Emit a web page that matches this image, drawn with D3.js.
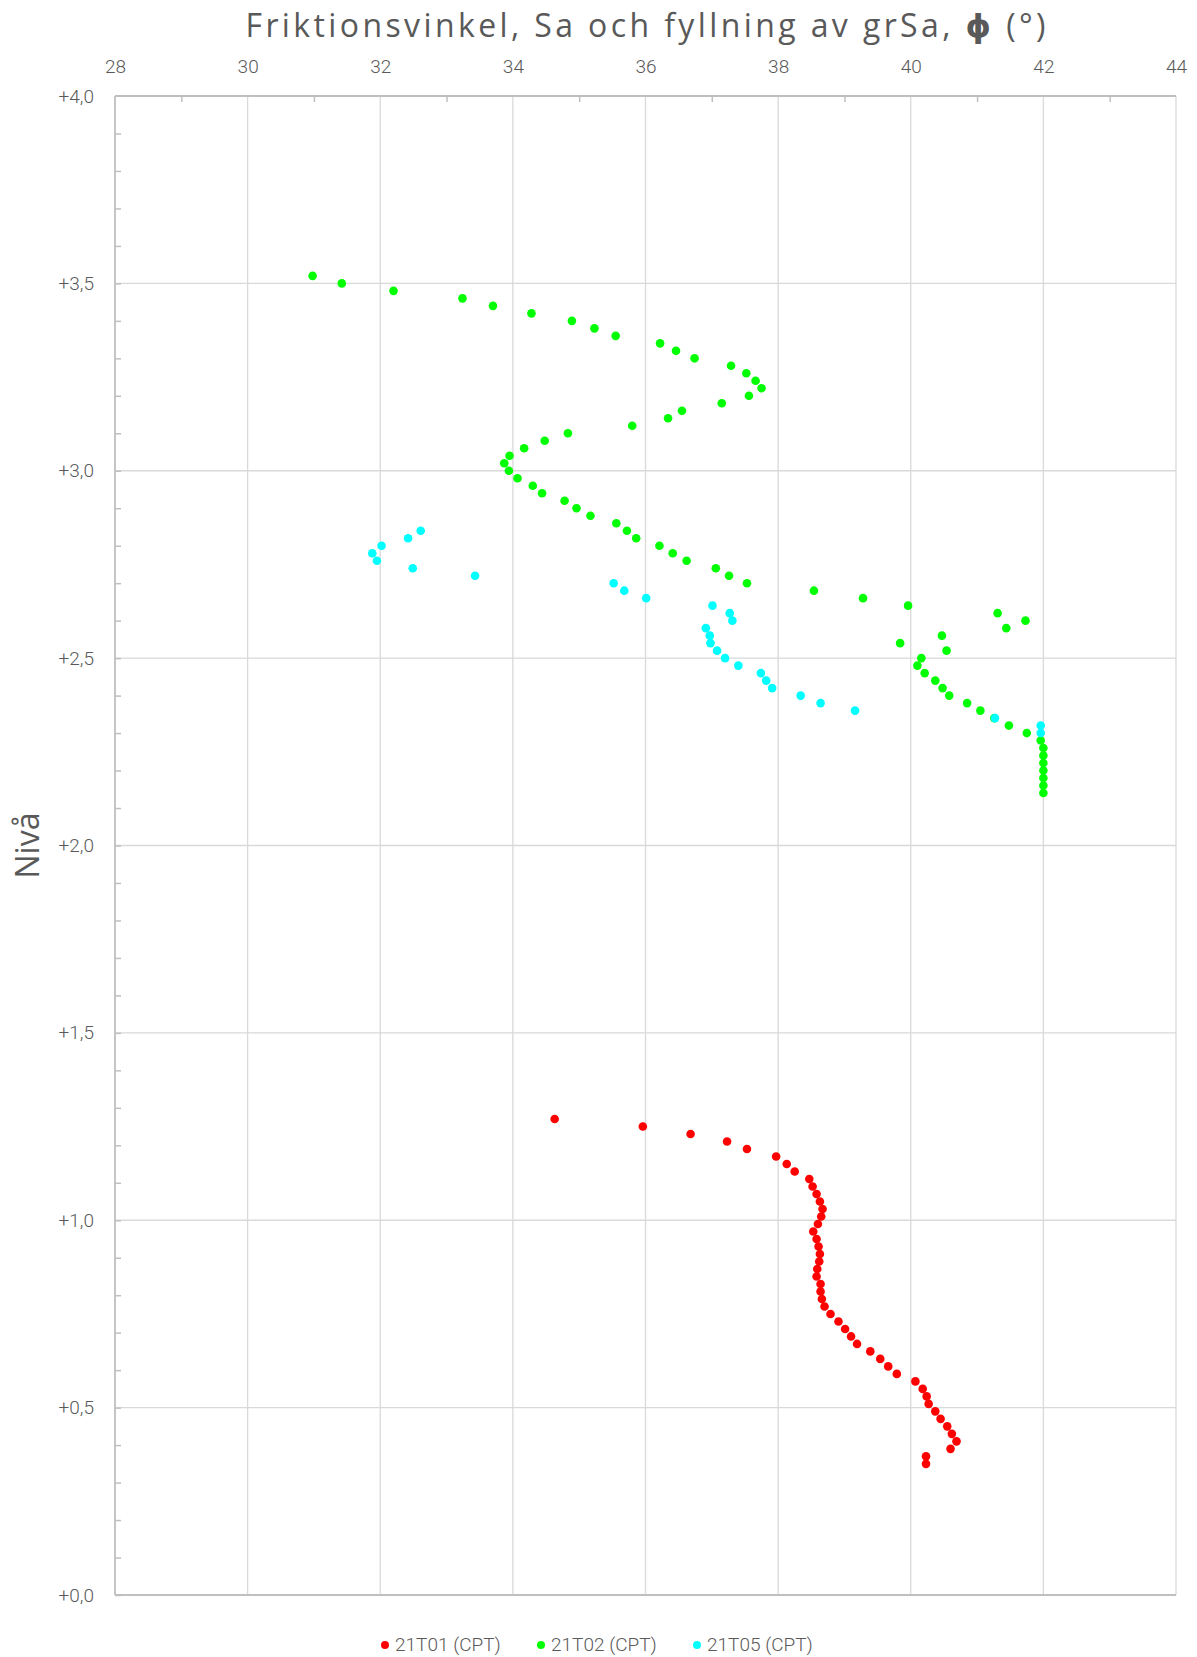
<!DOCTYPE html>
<html>
<head>
<meta charset="utf-8">
<script src="https://cdn.jsdelivr.net/npm/d3@7"></script>
<style>
  body { margin: 0; background: #fff; }
  svg { display: block; }
</style>
</head>
<body>
<div id="chart"></div>
<script>
// x-axis (phi) ticks and y-axis (level) ticks
const xTicks = [28, 30, 32, 34, 36, 38, 40, 42, 44];
const yTicks = [0, 0.5, 1, 1.5, 2, 2.5, 3, 3.5, 4];
const yTickLabels = ['+0,0', '+0,5', '+1,0', '+1,5', '+2,0', '+2,5', '+3,0', '+3,5', '+4,0'];

const seriesNames = ['21T01 (CPT)', '21T02 (CPT)', '21T05 (CPT)'];
const seriesColors = ['#ff0000', '#00ff00', '#00ffff'];

// 21T01
const t01Level = [1.27, 1.25, 1.23, 1.21, 1.19, 1.17, 1.15, 1.13, 1.11, 1.09, 1.07, 1.05, 1.03, 1.01,
  0.99, 0.97, 0.95, 0.93, 0.91, 0.89, 0.87, 0.85, 0.83, 0.81, 0.79, 0.77, 0.75, 0.73, 0.71, 0.69,
  0.67, 0.65, 0.63, 0.61, 0.59, 0.57, 0.55, 0.53, 0.51, 0.49, 0.47, 0.45, 0.43, 0.41, 0.39, 0.37, 0.35];
const t01Phi = [34.63, 35.96, 36.68, 37.23, 37.53, 37.97, 38.13, 38.25, 38.47, 38.52, 38.58, 38.63, 38.67, 38.65,
  38.60, 38.53, 38.58, 38.61, 38.63, 38.62, 38.59, 38.58, 38.64, 38.64, 38.66, 38.70, 38.79, 38.91, 39.01, 39.10,
  39.19, 39.39, 39.54, 39.66, 39.79, 40.07, 40.18, 40.24, 40.27, 40.37, 40.45, 40.55, 40.62, 40.69, 40.60, 40.23, 40.23];

// 21T02
const t02Level = [3.52, 3.50, 3.48, 3.46, 3.44, 3.42, 3.40, 3.38, 3.36, 3.34, 3.32, 3.30, 3.28, 3.26, 3.24,
  3.22, 3.20, 3.18, 3.16, 3.14, 3.12, 3.10, 3.08, 3.06, 3.04, 3.02, 3.00, 2.98, 2.96, 2.94, 2.92, 2.90,
  2.88, 2.86, 2.84, 2.82, 2.80, 2.78, 2.76, 2.74, 2.72, 2.70, 2.68, 2.66, 2.64, 2.62, 2.60, 2.58, 2.56,
  2.54, 2.52, 2.50, 2.48, 2.46, 2.44, 2.42, 2.40, 2.38, 2.36, 2.34, 2.32, 2.30, 2.28, 2.26, 2.24, 2.22,
  2.20, 2.18, 2.16, 2.14];
const t02Phi = [30.98, 31.42, 32.20, 33.24, 33.70, 34.28, 34.89, 35.23, 35.55, 36.22, 36.46, 36.74, 37.29, 37.52, 37.66,
  37.75, 37.56, 37.15, 36.55, 36.34, 35.80, 34.83, 34.48, 34.17, 33.95, 33.87, 33.94, 34.07, 34.30, 34.44, 34.78, 34.96,
  35.17, 35.56, 35.72, 35.86, 36.21, 36.41, 36.62, 37.06, 37.26, 37.53, 38.54, 39.28, 39.96, 41.31, 41.73, 41.44, 40.47,
  39.84, 40.54, 40.16, 40.10, 40.21, 40.37, 40.48, 40.58, 40.85, 41.05, 41.26, 41.48, 41.75, 41.96, 42.0, 42.0, 42.0,
  42.0, 42.0, 42.0, 42.0];

// 21T05
const t05Level = [2.84, 2.82, 2.80, 2.78, 2.76, 2.74, 2.72, 2.70, 2.68, 2.66, 2.64, 2.62, 2.60, 2.58,
  2.56, 2.54, 2.52, 2.50, 2.48, 2.46, 2.44, 2.42, 2.40, 2.38, 2.36, 2.34, 2.32, 2.30];
const t05Phi = [32.61, 32.42, 32.02, 31.88, 31.95, 32.49, 33.43, 35.52, 35.68, 36.01, 37.01, 37.27, 37.31, 36.91,
  36.97, 36.98, 37.08, 37.20, 37.40, 37.74, 37.82, 37.91, 38.34, 38.64, 39.16, 41.27, 41.96, 41.96];

const W = 1197, H = 1657;
const margin = {top: 96, right: 21, bottom: 62, left: 115};
const width = W - margin.left - margin.right;
const height = H - margin.top - margin.bottom;

const textColor = '#595959';
const tickFont = 'Roboto, "Liberation Sans", sans-serif';

const svg = d3.select('#chart').append('svg')
  .attr('width', W)
  .attr('height', H);

const x = d3.scaleLinear().domain([28, 44]).range([0, width]);
const y = d3.scaleLinear().domain([0, 4]).range([height, 0]);

const main = svg.append('g')
  .attr('transform', `translate(${margin.left},${margin.top})`);

// grid
main.append('g').selectAll('line.vgrid')
  .data(xTicks.slice(1))
  .enter().append('line')
  .attr('x1', d => x(d)).attr('x2', d => x(d))
  .attr('y1', 0).attr('y2', height)
  .attr('stroke', '#d9d9d9').attr('stroke-width', 1.3);

main.append('g').selectAll('line.hgrid')
  .data(yTicks.slice(1))
  .enter().append('line')
  .attr('x1', 0).attr('x2', width)
  .attr('y1', d => y(d)).attr('y2', d => y(d))
  .attr('stroke', '#d9d9d9').attr('stroke-width', 1.3);

// minor ticks (drawn inward)
const minorX = d3.axisBottom(x).tickValues(d3.range(29, 44, 2)).tickSize(6).tickFormat('');
const minorY = d3.axisRight(y).tickValues(d3.range(0, 40).map(i => i / 10)).tickSize(6).tickFormat('');

main.append('g').attr('class', 'minor x').call(minorX);
main.append('g').attr('class', 'minor y').call(minorY);
main.selectAll('.minor .domain').remove();
main.selectAll('.minor line').attr('stroke', '#bfbfbf').attr('stroke-width', 1.5);

// axis lines
main.append('line').attr('x1', 0).attr('x2', width).attr('y1', 0).attr('y2', 0)
  .attr('stroke', '#bfbfbf').attr('stroke-width', 1.8);
main.append('line').attr('x1', 0).attr('x2', width).attr('y1', height).attr('y2', height)
  .attr('stroke', '#bfbfbf').attr('stroke-width', 1.8);
main.append('line').attr('x1', 0).attr('x2', 0).attr('y1', 0).attr('y2', height)
  .attr('stroke', '#bfbfbf').attr('stroke-width', 1.8);

// tick labels
const xAxis = d3.axisTop(x).tickValues(xTicks).tickSize(0).tickPadding(23);
const yAxis = d3.axisLeft(y).tickValues(yTicks).tickSize(0).tickPadding(21)
  .tickFormat((d, i) => yTickLabels[i]);

const gx = main.append('g').call(xAxis);
const gy = main.append('g').call(yAxis);
[gx, gy].forEach(g => {
  g.select('.domain').remove();
  g.selectAll('text')
    .attr('fill', textColor)
    .style('font-family', tickFont)
    .style('font-weight', 300)
    .style('font-size', '19px');
});

// points
const series = [
  {phi: t01Phi, level: t01Level},
  {phi: t02Phi, level: t02Level},
  {phi: t05Phi, level: t05Level}
];

series.forEach((s, i) => {
  main.append('g').selectAll('circle')
    .data(s.phi.map((p, j) => ({phi: p, level: s.level[j]})))
    .enter().append('circle')
    .attr('cx', d => x(d.phi))
    .attr('cy', d => y(d.level))
    .attr('r', 4.3)
    .attr('fill', seriesColors[i]);
});

// title
svg.append('text')
  .attr('x', margin.left + width / 2)
  .attr('y', 37)
  .attr('text-anchor', 'middle')
  .attr('fill', textColor)
  .attr('textLength', 800)
  .attr('lengthAdjust', 'spacing')
  .style('font-family', '"Open Sans", "DejaVu Sans", sans-serif')
  .style('font-size', '32px')
  .html('Friktionsvinkel, Sa och fyllning av grSa, <tspan font-weight="bold">ϕ</tspan> (°)');

// y label
svg.append('text')
  .attr('transform', `translate(39,${margin.top + height / 2}) rotate(-90)`)
  .attr('text-anchor', 'middle')
  .attr('fill', textColor)
  .style('font-family', '"Open Sans", "DejaVu Sans", sans-serif')
  .style('font-size', '32px')
  .text('Nivå');

// legend
const legendX = [385, 541, 697];
const legend = svg.append('g');
seriesNames.forEach((name, i) => {
  legend.append('circle')
    .attr('cx', legendX[i]).attr('cy', 1645).attr('r', 4)
    .attr('fill', seriesColors[i]);
  legend.append('text')
    .attr('x', legendX[i] + 10).attr('y', 1651)
    .attr('fill', textColor)
    .style('font-family', tickFont)
    .style('font-weight', 300)
    .style('font-size', '19px')
    .text(name);
});
</script>
</body>
</html>
